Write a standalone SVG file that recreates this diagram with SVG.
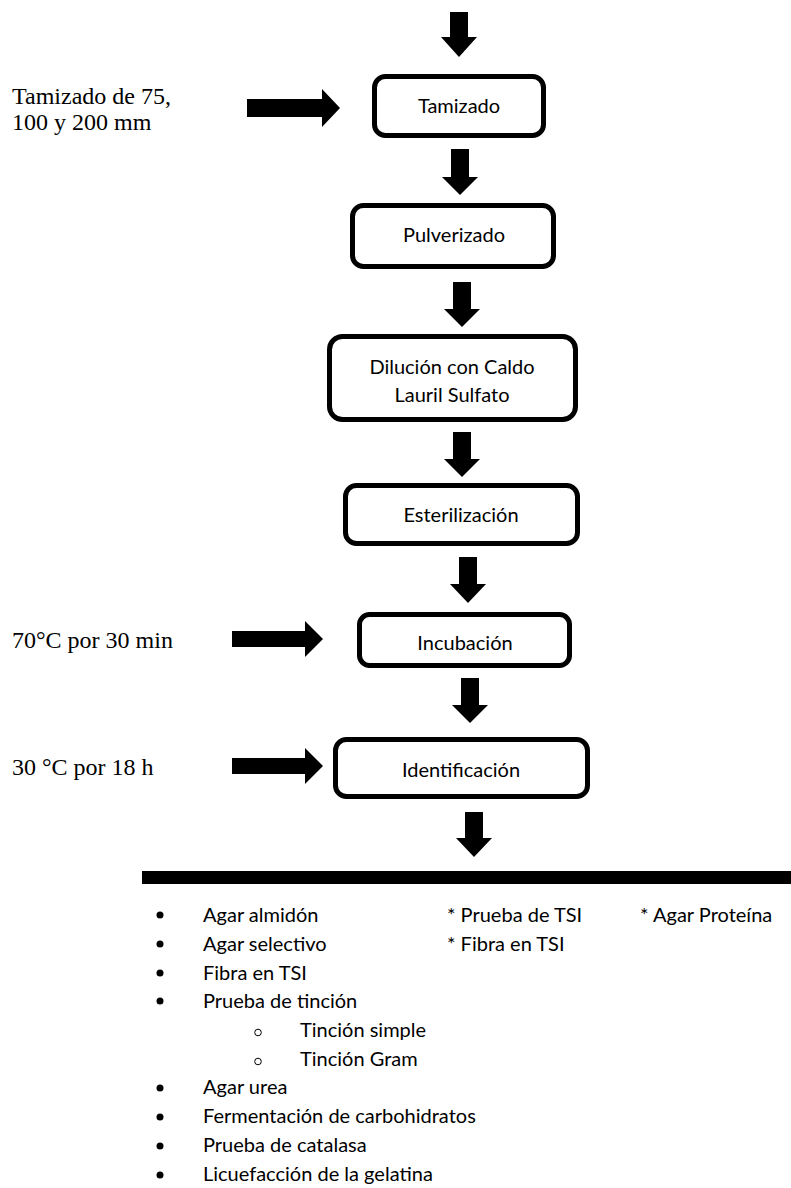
<svg xmlns="http://www.w3.org/2000/svg" width="791" height="1188" viewBox="0 0 791 1188">
<style>
.box{fill:#fff;stroke:#000;stroke-width:5}
.bt{font-family:Lato,"Liberation Sans",sans-serif;font-size:20px;fill:#000;text-anchor:middle}
.st{font-family:"Liberation Serif","Times New Roman",serif;font-size:24px;fill:#000}
.lt{font-family:Lato,"Liberation Sans",sans-serif;font-size:20px;fill:#000}
.ar{fill:#000}
</style>
<rect width="791" height="1188" fill="#fff"/>
<g id="connectors">
<polygon class="ar" points="450,12 468,12 468,37 477,37 459,57 441,37 450,37"/>
<polygon class="ar" points="451,149 469,149 469,177 478,177 460,195 442,177 451,177"/>
<polygon class="ar" points="453,282 471,282 471,309 480,309 462,327 444,309 453,309"/>
<polygon class="ar" points="453,432 471,432 471,459 480,459 462,477 444,459 453,459"/>
<polygon class="ar" points="459,557 477,557 477,584 486,584 468,603 450,584 459,584"/>
<polygon class="ar" points="461,678 479,678 479,705 488,705 470,723 452,705 461,705"/>
<polygon class="ar" points="465,812 483,812 483,838 492,838 474,857 456,838 465,838"/>
<polygon class="ar" points="247,99 322,99 322,89 340,108 322,127 322,117 247,117"/>
<polygon class="ar" points="232,631 305,631 305,621 323,639 305,657 305,647 232,647"/>
<polygon class="ar" points="232,758 305,758 305,748 323,766 305,784 305,774 232,774"/>
<rect x="142" y="871" width="649" height="13" fill="#000"/>
</g>
<g id="n-tamizado"><rect class="box" x="374.5" y="76.5" width="169" height="59" rx="11"/><text class="bt" x="459" y="113">Tamizado</text></g>
<g id="n-pulverizado"><rect class="box" x="352.5" y="205.5" width="201" height="61" rx="11"/><text class="bt" x="454" y="242">Pulverizado</text></g>
<g id="n-dilucion"><rect class="box" x="329.5" y="336.5" width="246" height="83" rx="13"/><text class="bt" x="452" y="374">Dilución con Caldo</text><text class="bt" x="452" y="402">Lauril Sulfato</text></g>
<g id="n-esterilizacion"><rect class="box" x="345.5" y="485.5" width="232" height="58" rx="11"/><text class="bt" x="461" y="522">Esterilización</text></g>
<g id="n-incubacion"><rect class="box" x="359.5" y="614.5" width="210" height="51" rx="10"/><text class="bt" x="465" y="650">Incubación</text></g>
<g id="n-identificacion"><rect class="box" x="335.5" y="739.5" width="252" height="57" rx="11"/><text class="bt" x="461" y="777">Identificación</text></g>
<g id="side-labels">
<text class="st" x="12" y="104">Tamizado de 75,</text>
<text class="st" x="12" y="130">100 y 200 mm</text>
<text class="st" x="12" y="648">70°C por 30 min</text>
<text class="st" x="12" y="775">30 °C por 18 h</text>
</g>
<g id="list">
<g fill="#000">
<circle cx="160" cy="915" r="3.5"/><circle cx="160" cy="944" r="3.5"/><circle cx="160" cy="973" r="3.5"/><circle cx="160" cy="1001" r="3.5"/>
<circle cx="160" cy="1088" r="3.5"/><circle cx="160" cy="1117" r="3.5"/><circle cx="160" cy="1146" r="3.5"/><circle cx="160" cy="1175" r="3.5"/>
</g>
<g fill="none" stroke="#000" stroke-width="1">
<circle cx="258" cy="1032.5" r="3.3"/><circle cx="258" cy="1061.5" r="3.3"/>
</g>
<text class="lt" x="203" y="922">Agar almidón</text>
<text class="lt" x="203" y="951">Agar selectivo</text>
<text class="lt" x="203" y="980">Fibra en TSI</text>
<text class="lt" x="203" y="1008">Prueba de tinción</text>
<text class="lt" x="300" y="1037">Tinción simple</text>
<text class="lt" x="300" y="1066">Tinción Gram</text>
<text class="lt" x="203" y="1094">Agar urea</text>
<text class="lt" x="203" y="1123">Fermentación de carbohidratos</text>
<text class="lt" x="203" y="1152">Prueba de catalasa</text>
<text class="lt" x="203" y="1181">Licuefacción de la gelatina</text>
<text class="lt" x="447" y="922">* Prueba de TSI</text>
<text class="lt" x="447" y="951">* Fibra en TSI</text>
<text class="lt" x="640" y="922">* Agar Proteína</text>
</g>
</svg>
